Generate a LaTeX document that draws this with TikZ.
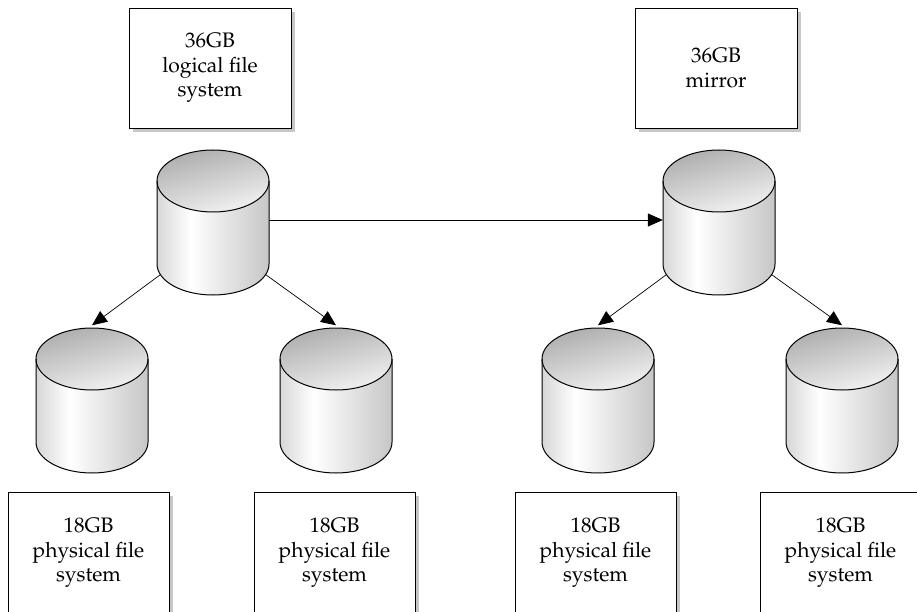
\documentclass[tikz,border=0pt]{standalone}
\usepackage[T1]{fontenc}
\usepackage{mathpazo}
\usetikzlibrary{arrows.meta,shadows}
\pgfdeclarehorizontalshading{diskside}{100bp}{color(0bp)=(black!42); color(40bp)=(white); color(100bp)=(black!38)}
\tikzset{
  fsbox/.style={draw, line width=0.8pt, fill=white, minimum width=162pt, minimum height=120pt,
    align=center, inner sep=0pt, font=\fontsize{21}{24.5}\selectfont,
    drop shadow={shadow xshift=4pt, shadow yshift=-4pt, fill=black!22, opacity=1}},
  link/.style={line width=0.7pt, -{Triangle[length=15pt,width=13pt]}},
}
% disk: name, x of centre, y of top
\newcommand\drawdisk[3]{%
  \begin{scope}[shift={(#2,#3)}]
    \shade[shading=diskside] (-56,-31) -- (-56,-114) arc[start angle=180, end angle=360, x radius=56, y radius=31] -- (56,-31) -- cycle;
    \shade[top color=black!32, bottom color=black!5, shading angle=15] (0,-31) ellipse[x radius=56, y radius=31];
    \draw[line width=1pt] (-56,-31) -- (-56,-114) arc[start angle=180, end angle=360, x radius=56, y radius=31] -- (56,-31);
    \draw[line width=1pt] (0,-31) ellipse[x radius=56, y radius=31];
    \node[inner sep=0pt, minimum width=112pt, minimum height=145pt] (#1) at (0,-70) {};
    \coordinate (#1-sw) at (-52.6,-124.6);
    \coordinate (#1-se) at (52.6,-124.6);
  \end{scope}}
\begin{document}
\begin{tikzpicture}[x=1pt,y=1pt]
  \useasboundingbox (0,0) rectangle (917,611);
  % top labels
  \node[fsbox] (log) at (210,543) {36GB\\logical file\\system};
  \node[fsbox] (mir) at (716,543) {36GB\\mirror};
  % disks
  \drawdisk{dlog}{213}{461}
  \drawdisk{dmir}{719}{461}
  \drawdisk{dp1}{92}{283}
  \drawdisk{dp2}{336}{283}
  \drawdisk{dp3}{598}{283}
  \drawdisk{dp4}{842}{283}
  % bottom labels
  \foreach \n/\x in {1/88.5,2/334.5,3/595.5,4/840.5}
    \node[fsbox, minimum width=161pt, minimum height=122pt] (p\n) at (\x,58) {18GB\\physical file\\system};
  % links
  \draw[link] (dlog.east) -- (dmir.west);
  \draw[link] (dlog-sw) -- (dp1.north);
  \draw[link] (dlog-se) -- (dp2.north);
  \draw[link] (dmir-sw) -- (dp3.north);
  \draw[link] (dmir-se) -- (dp4.north);
\end{tikzpicture}
\end{document}
